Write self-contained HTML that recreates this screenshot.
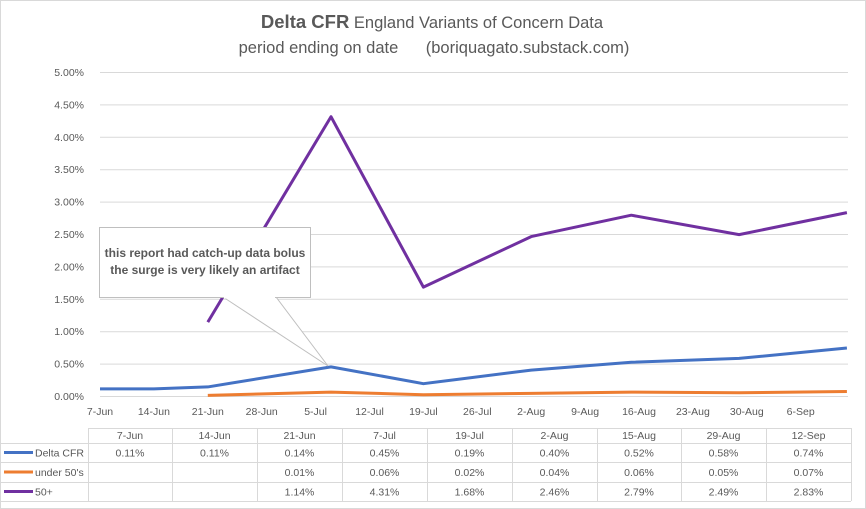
<!DOCTYPE html>
<html><head><meta charset="utf-8"><style>
body{margin:0;background:#fff}
svg{display:block;font-family:"Liberation Sans",Arial,sans-serif}
</style></head><body>
<svg width="866" height="509" viewBox="0 0 866 509">
<rect x="0.5" y="0.5" width="865" height="508" fill="#fff" stroke="#d9d9d9"/>
<text x="432" y="28" text-anchor="middle" font-size="18.5" fill="#595959"><tspan font-weight="bold">Delta CFR</tspan><tspan font-size="16.5"> England Variants of Concern Data</tspan></text>
<text x="434" y="53" text-anchor="middle" font-size="16.5" fill="#595959" xml:space="preserve">period ending on date      (boriquagato.substack.com)</text>
<g id="grid"></g><g id="yticks"></g><g id="xticks"></g><g id="series"></g><g id="table"></g>
<g>
<polygon points="223,297 328,366 276,297" fill="#fff" stroke="#bfbfbf" stroke-width="1"/>
<rect x="99.5" y="227.5" width="211" height="70" fill="#fff" stroke="#bfbfbf"/>
<line x1="224" y1="297.5" x2="275" y2="297.5" stroke="#fff" stroke-width="2"/>
<text x="205" y="257" text-anchor="middle" font-size="12" font-weight="bold" fill="#595959">this report had catch-up  data bolus</text>
<text x="205" y="274" text-anchor="middle" font-size="12" font-weight="bold" fill="#595959">the surge is very likely  an artifact</text>
</g>
</svg>
<script>
const dates=["7-Jun","14-Jun","21-Jun","7-Jul","19-Jul","2-Aug","15-Aug","29-Aug","12-Sep"];
const dayOffsets=[0,7,14,30,42,56,69,83,97];
const deltaCFR=[0.11,0.11,0.14,0.45,0.19,0.40,0.52,0.58,0.74];
const under50=[null,null,0.01,0.06,0.02,0.04,0.06,0.05,0.07];
const over50=[null,null,1.14,4.31,1.68,2.46,2.79,2.49,2.83];
const yTicks=[0,0.5,1,1.5,2,2.5,3,3.5,4,4.5,5];
const xTickLabels=["7-Jun","14-Jun","21-Jun","28-Jun","5-Jul","12-Jul","19-Jul","26-Jul","2-Aug","9-Aug","16-Aug","23-Aug","30-Aug","6-Sep"];
const NS="http://www.w3.org/2000/svg";
const X=d=>100+d*7.7;
const Y=v=>396-v*64.8;
function mk(tag,attrs,parent,text){const e=document.createElementNS(NS,tag);for(const k in attrs)e.setAttribute(k,attrs[k]);if(text!==undefined)e.textContent=text;parent.appendChild(e);return e;}
const grid=document.getElementById('grid'),yt=document.getElementById('yticks'),xt=document.getElementById('xticks'),ser=document.getElementById('series'),tb=document.getElementById('table');
yTicks.forEach(v=>{
 const l=mk('line',{x1:100,x2:848,y1:Y(v)+0.5,y2:Y(v)+0.5,stroke:'#d9d9d9'},grid);
 
 
 const t=mk('text',{x:84,y:Y(v)+4,'text-anchor':'end','font-size':10.5,fill:'#595959'},yt,v.toFixed(2)+'%');
 
 
});
xTickLabels.forEach((s,i)=>{
 const t=mk('text',{x:X(i*7),y:415,'text-anchor':'middle','font-size':10.5,fill:'#595959'},xt,s);
 
 
});
const series=[["delta-cfr-line",deltaCFR,"#4472c4"],["under-50s-line",under50,"#ed7d31"],["over-50-line",over50,"#7030a0"]];
series.forEach(([n,arr,c])=>{
 const pts=[];arr.forEach((v,i)=>{if(v!==null)pts.push(X(dayOffsets[i])+','+Y(v));});
 const p=mk('polyline',{points:pts.join(' '),fill:'none',stroke:c,'stroke-width':3,'stroke-linejoin':'round'},ser);
 
 
});
const colX=[88,172,257,342,427,512,597,681,766,851];
const rowY=[428,443,462,482,501];
const g='#d9d9d9';
mk('line',{x1:88,x2:851,y1:428.5,y2:428.5,stroke:g},tb);
for(let r=1;r<5;r++)mk('line',{x1:0,x2:851,y1:rowY[r]+0.5,y2:rowY[r]+0.5,stroke:g},tb);
colX.forEach(x=>mk('line',{x1:x+0.5,x2:x+0.5,y1:428,y2:501,stroke:g},tb));
dates.forEach((d,i)=>{
 const t=mk('text',{x:(colX[i]+colX[i+1])/2,y:439,'text-anchor':'middle','font-size':10.5,fill:'#595959'},tb,d);
 
 
});
const names=["Delta CFR","under 50's","50+"];
series.forEach(([n,arr,c],r)=>{
 const cy=(rowY[r+1]+rowY[r+2])/2;
 mk('line',{x1:4,x2:33,y1:cy,y2:cy,stroke:c,'stroke-width':3},tb);
 const lt=mk('text',{x:35,y:cy+4,'font-size':10.5,fill:'#595959'},tb,names[r]);
 
 
 arr.forEach((v,i)=>{if(v===null)return;
  const t=mk('text',{x:(colX[i]+colX[i+1])/2,y:cy+4,'text-anchor':'middle','font-size':10.5,fill:'#595959'},tb,v.toFixed(2)+'%');
  
  
 });
});
</script>
</body></html>
